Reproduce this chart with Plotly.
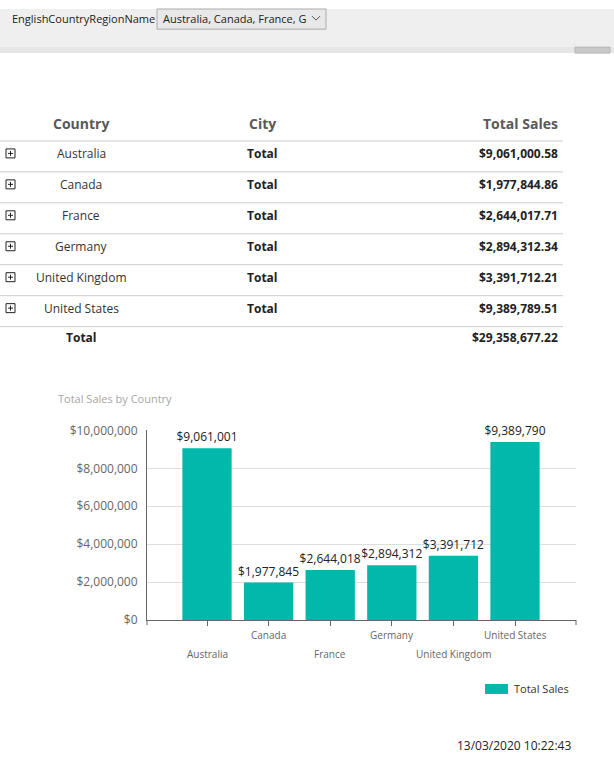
import plotly.graph_objects as go

# ---------------- data ----------------
countries = ["Australia", "Canada", "France", "Germany", "United Kingdom", "United States"]
total_sales = [9061000.58, 1977844.86, 2644017.71, 2894312.34, 3391712.21, 9389789.51]
grand_total = 29358677.22
table_headers = ["Country", "City", "Total Sales"]
city_label = "Total"
y_ticks = [0, 2000000, 4000000, 6000000, 8000000, 10000000]
param_name = "EnglishCountryRegionName"
param_value = "Australia, Canada, France, G"
chart_title = "Total Sales by Country"
series_name = "Total Sales"
timestamp = "13/03/2020 10:22:43"

W, H = 614, 770
FONT = "Segoe UI, Open Sans, sans-serif"
TEAL = "#01B8AA"
TOP_GRAY = "#EFEFEF"

# page photographed as (8px top offset + figure), squeezed to 770 rows
V_SCALE = 770 / 786
V_OFF = 8


def px(x):
    return x / W


def py(y):
    fy = y / V_SCALE - V_OFF
    return 1 - fy / H


shapes = []
annotations = []


def text(x, y, s, size=12, color="#333", bold=False, xanchor="center", family=FONT):
    annotations.append(dict(
        x=px(x), y=py(y), xref="paper", yref="paper", text=f"<b>{s}</b>" if bold else s,
        showarrow=False, xanchor=xanchor, yanchor="middle",
        font=dict(size=size, color=color, family=family)))


def rect(x0, y0, x1, y1, fill=None, line=None, lw=1, layer="below"):
    shapes.append(dict(type="rect", xref="paper", yref="paper",
                       x0=px(x0), x1=px(x1), y0=py(y1), y1=min(1.0, py(y0)),
                       fillcolor=fill if fill else "rgba(0,0,0,0)",
                       line=dict(color=line if line else "rgba(0,0,0,0)", width=lw if line else 0),
                       layer=layer))


def hline(x0, x1, y, color="#cccccc", w=1):
    shapes.append(dict(type="line", xref="paper", yref="paper",
                       x0=px(x0), x1=px(x1), y0=py(y), y1=py(y),
                       line=dict(color=color, width=w)))


# ---------------- parameter bar ----------------
rect(0, 0, W, 46, fill=TOP_GRAY)
rect(0, 46, W, 52, fill="#E6E6E6")
rect(575, 46, 610, 52, fill="#C9C9C9", line="#B5B5B5")
rect(157, 6, 326, 28, fill="#E8E8E8", line="#ABABAB")
text(10, 17, param_name, size=11, color="#222", xanchor="left")
text(161, 17, param_value, size=11, color="#222", xanchor="left")
shapes.append(dict(type="path", xref="paper", yref="paper",
                   path=f"M {px(312)},{py(15)} L {px(316)},{py(19)} L {px(320)},{py(15)}",
                   line=dict(color="#555", width=1)))

# ---------------- table ----------------
COL_COUNTRY, COL_CITY, COL_SALES = 81, 262, 560
text(COL_COUNTRY, 123, table_headers[0], size=14, color="#595959", bold=True)
text(COL_CITY, 123, table_headers[1], size=14, color="#595959", bold=True)
text(COL_SALES, 123, table_headers[2], size=14, color="#595959", bold=True, xanchor="right")
row_y0 = 140
row_h = 31
for i, (c, v) in enumerate(zip(countries, total_sales)):
    yl = row_y0 + i * row_h
    hline(0, 563, yl)
    yc = yl + 12.5
    rect(6, yc - 4.5, 15, yc + 4.5, line="#222", lw=1)
    shapes.append(dict(type="line", xref="paper", yref="paper", x0=px(8), x1=px(13), y0=py(yc), y1=py(yc),
                       line=dict(color="#222", width=1)))
    shapes.append(dict(type="line", xref="paper", yref="paper", x0=px(10.5), x1=px(10.5), y0=py(yc - 2.5),
                       y1=py(yc + 2.5), line=dict(color="#222", width=1)))
    text(COL_COUNTRY, yc, c, size=12, color="#333")
    text(COL_CITY, yc, city_label, size=12, color="#222", bold=True)
    text(COL_SALES, yc, f"${v:,.2f}", size=12, color="#222", bold=True, xanchor="right")
hline(0, 563, row_y0 + len(countries) * row_h)
text(COL_COUNTRY, 337, city_label, size=12, color="#222", bold=True)
text(COL_SALES, 337, f"${grand_total:,.2f}", size=12, color="#222", bold=True, xanchor="right")

# ---------------- chart ----------------
text(56, 398, chart_title, size=11, color="#A6A6A6", xanchor="left")

fig = go.Figure()
fig.add_trace(go.Bar(
    x=countries, y=total_sales, name=series_name,
    marker=dict(color=TEAL, line=dict(width=0)),
    width=0.8,
    texttemplate="%{y:$,.0f}", textposition="outside",
    textfont=dict(size=12, color="#222", family=FONT),
    cliponaxis=False, constraintext="none", showlegend=False,
))

for i, c in enumerate(countries):
    annotations.append(dict(x=c, xref="x", y=py(635 if i % 2 else 654), yref="paper", text=c,
                            showarrow=False, font=dict(size=10, color="#666", family=FONT),
                            xanchor="center", yanchor="middle"))

for xd in (0, 1):
    shapes.append(dict(type="line", xref="x domain", yref="paper", x0=xd, x1=xd,
                       y0=py(620), y1=py(625), line=dict(color="#666", width=1)))

rect(485, 684, 508, 694, fill=TEAL)
text(512, 689, series_name, size=11, color="#333", xanchor="left")

text(514, 746, timestamp, size=12, color="#222")

fig.update_layout(
    width=W, height=H, margin=dict(l=0, r=0, t=0, b=0),
    paper_bgcolor="white", plot_bgcolor="white",
    font=dict(family=FONT),
    shapes=shapes, annotations=annotations, showlegend=False,
    xaxis=dict(domain=[px(147), px(576)], type="category", categoryarray=countries,
               range=[-0.974, 5.99], showticklabels=False, ticks="outside", ticklen=5,
               tickcolor="#666", showline=True, linecolor="#666", linewidth=1, showgrid=False,
               zeroline=False, fixedrange=True),
    yaxis=dict(domain=[py(620), py(430)], range=[0, 10000000], tickvals=y_ticks,
               tickformat="$,.0f", tickfont=dict(size=12, color="#666", family=FONT),
               showline=True, linecolor="#666", linewidth=1, showgrid=True, gridcolor="#DDDDDD",
               zeroline=False, ticks="", ticklabelstandoff=6, fixedrange=True),
    bargap=0.2,
)

fig.write_html(
    "out.html", config={"displayModeBar": False},
    post_script=("document.body.style.margin='0';"
                 "document.documentElement.style.overflow='hidden';"
                 "document.documentElement.style.background="
                 "'linear-gradient(#EFEFEF 0px, #EFEFEF 30px, #ffffff 30px) no-repeat';"
                 "document.body.style.background='transparent';"),
)
